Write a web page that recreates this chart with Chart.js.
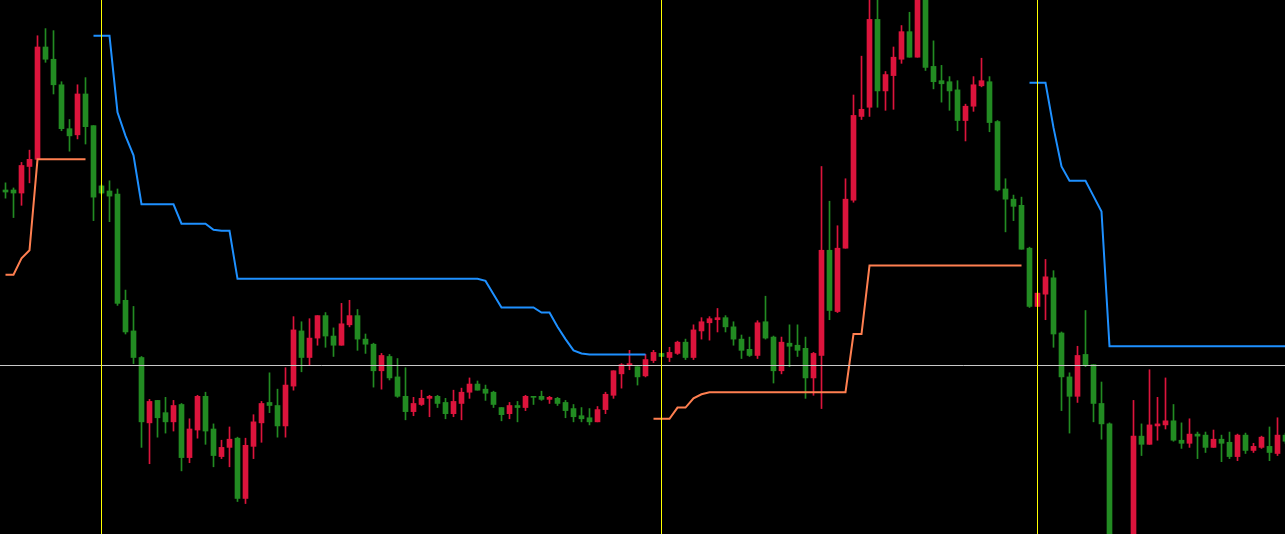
<!DOCTYPE html>
<html>
<head>
<meta charset="utf-8">
<script src="https://cdn.jsdelivr.net/npm/chart.js@4/dist/chart.umd.min.js"></script>
<style>
  html, body { margin: 0; padding: 0; background: #000; }
  canvas { display: block; }
</style>
</head>
<body>
<canvas id="priceChart" width="1285" height="534"></canvas>
<script>
// OHLC per bar, in price points (bar 0 = leftmost candle)
const openPrices = [
  414,414,411,437,444,554,542,517,474,468,
  508,477,418,413,410,306,276,250,186,208,
  196,187,204,152,179,212,180,153,162,171,
  112,163,186,206,203,183,222,276,250,269,
  291,271,262,282,291,268,263,237,251,231,
  212,197,204,210,212,206,195,205,216,224,
  219,216,201,195,203,201,212,212,209,210,
  206,200,193,191,187,199,213,234,242,241,
  232,247,254,250,254,265,250,276,284,287,
  289,280,268,258,252,285,270,237,264,262,
  259,230,252,355,295,357,404,486,495,581,
  511,526,542,569,544,603,535,521,520,512,
  482,496,516,520,481,415,405,399,357,300,
  312,328,274,231,212,253,243,205,185,42,
  30,38,173,165,183,184,188,169,166,175,
  174,162,170,167,153,174,159,162,163,156,
  174
];
const highPrices = [
  421,416,441,453,565,572,570,520,483,517,
  524,477,419,423,415,316,300,251,209,208,
  211,208,205,190,213,216,185,169,182,172,
  171,194,207,235,219,240,290,285,288,291,
  294,279,303,306,297,273,264,254,253,249,
  240,211,218,213,213,210,218,220,230,227,
  223,217,201,206,207,213,212,217,212,211,
  208,204,201,200,202,216,237,244,257,241,
  253,257,254,260,266,268,282,289,290,298,
  291,285,272,270,286,310,271,270,282,282,
  270,255,437,403,379,425,507,545,602,603,
  530,554,575,588,608,608,560,536,525,521,
  498,525,543,525,482,425,409,407,358,313,
  346,335,275,235,261,296,243,226,186,50,
  45,208,185,238,211,230,204,186,190,177,
  177,179,174,177,175,176,166,173,182,191,
  176
];
const lowPrices = [
  406,387,399,421,444,539,508,472,452,464,
  459,384,410,383,301,273,244,162,146,172,
  176,178,139,147,171,165,143,151,143,109,
  107,151,167,196,172,172,218,236,243,262,
  260,251,262,280,257,254,221,219,228,211,
  189,193,203,192,201,190,192,189,210,218,
  208,201,188,190,187,198,204,208,205,203,
  191,187,187,184,187,195,210,220,238,223,
  231,245,251,246,253,248,248,268,267,275,
  275,262,249,251,249,268,225,234,241,251,
  210,213,200,287,294,357,402,483,486,495,
  492,493,538,544,544,531,513,500,492,472,
  462,491,515,471,413,373,384,356,299,300,
  287,260,198,176,206,241,187,170,30,22,
  20,30,154,165,169,180,168,161,162,151,
  157,162,148,151,149,156,157,161,149,154,
  166
];
const closePrices = [
  412,411,438,444,554,542,517,474,467,508,
  476,407,411,408,303,275,250,187,207,191,
  187,203,152,180,212,178,154,162,170,112,
  164,187,205,203,183,223,277,250,269,291,
  271,262,283,291,268,263,237,252,230,212,
  197,205,210,212,205,195,207,216,224,218,
  215,204,194,203,201,212,211,209,211,205,
  198,192,190,187,199,214,237,243,244,231,
  248,255,251,255,265,250,277,285,288,289,
  280,268,257,252,284,269,237,265,261,257,
  230,254,355,296,357,405,487,493,581,511,
  527,544,569,544,603,534,520,518,511,482,
  496,517,521,480,414,405,398,356,300,313,
  329,273,231,212,252,242,205,185,40,30,
  38,173,165,184,185,188,169,166,175,173,
  162,170,166,153,174,159,163,172,157,174,
  168
];

// stop lines: [first bar, values...]
const orangeStops = [
  [0, [331,331,347,355,444,444,444,444,444,444,444]],
  [81, [190,190,190,201,201,210,214,
        216,216,216,216,216,216,216,216,216,216,216,216,216,216,216,216,216,216,
        273,273,
        340,340,340,340,340,340,340,340,340,340,340,340,340,340,340,340,340,340,340,340]]
];
const blueStops = [
  [11, [565,565,565,490,467,448,400,400,400,400,400,381,381,381,381,375,374,374,
        327,327,327,327,327,327,327,327,327,327,327,327,327,327,327,327,327,327,327,327,
        327,327,327,327,327,327,327,327,327,327,327,
        325,312,299,299,299,299,299,294,294,280,268,257,254,
        253,253,253,253,253,253,253,253]],
  [128, [519,519,519,475,437,423,423,423,408,393,
         261,261,261,261,261,261,261,261,261,261,261,261,261,261,261,261,261,261,261,261,261,261,261]]
];

const separatorBars = [12, 82, 129];
const levelPrice = 242.4;

const upColor = '#dc143c';
const downColor = '#228b22';

const bars = openPrices.map((_, i) => i);
const candleColors = bars.map(i => closePrices[i] >= openPrices[i] ? upColor : downColor);

const guides = {
  id: 'guides',
  afterDatasetsDraw(chart) {
    const { ctx, chartArea, scales: { x, y } } = chart;
    ctx.save();
    ctx.lineWidth = 1;
    ctx.strokeStyle = '#c8c8c8';
    const py = Math.floor(y.getPixelForValue(levelPrice)) + 0.5;
    ctx.beginPath();
    ctx.moveTo(chartArea.left, py);
    ctx.lineTo(chartArea.right, py);
    ctx.stroke();
    ctx.strokeStyle = '#ffff00';
    separatorBars.forEach(i => {
      const px = Math.floor(x.getPixelForValue(i)) + 0.5;
      ctx.beginPath();
      ctx.moveTo(px, chartArea.top);
      ctx.lineTo(px, chartArea.bottom);
      ctx.stroke();
    });
    ctx.restore();
  }
};

function lineSets(segments, color) {
  return segments.map(([start, values]) => ({
    type: 'line',
    data: values.map((v, k) => ({ x: start + k, y: v })),
    borderColor: color,
    borderWidth: 2,
    pointRadius: 0,
    tension: 0,
    fill: false,
    order: 1
  }));
}

new Chart(document.getElementById('priceChart'), {
  type: 'bar',
  data: {
    datasets: [
      {
        label: 'wick',
        data: bars.map(i => ({ x: i, y: [lowPrices[i], highPrices[i]] })),
        backgroundColor: candleColors,
        barThickness: 1,
        grouped: false,
        order: 3
      },
      {
        label: 'body',
        data: bars.map(i => ({ x: i, y: [openPrices[i], closePrices[i]] })),
        backgroundColor: candleColors,
        barThickness: 5,
        minBarLength: 1,
        grouped: false,
        order: 2
      },
      ...lineSets(orangeStops, '#ff7f50'),
      ...lineSets(blueStops, '#1e90ff')
    ]
  },
  options: {
    responsive: false,
    animation: false,
    layout: { padding: 0 },
    plugins: { legend: { display: false }, tooltip: { enabled: false } },
    scales: {
      x: { type: 'linear', offset: false, min: -0.6875, max: 159.9375, display: false },
      y: { min: 77.2, max: 600, display: false }
    }
  }
  ,
  plugins: [guides]
});
</script>
</body>
</html>
